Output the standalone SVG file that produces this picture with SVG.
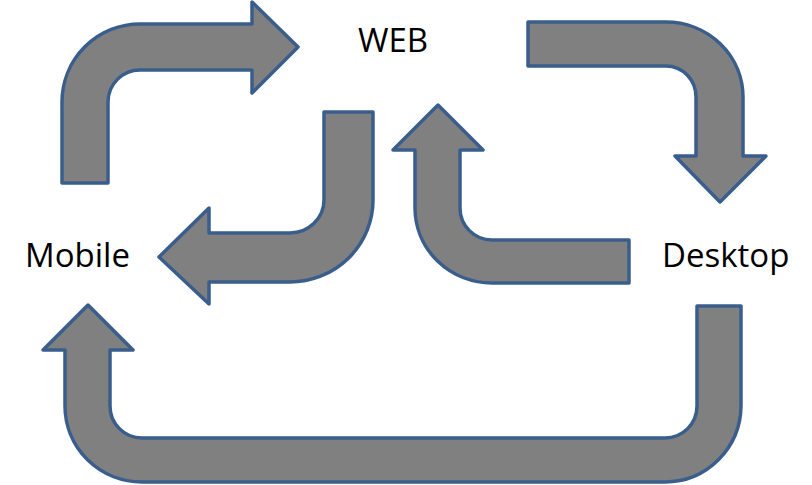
<svg xmlns="http://www.w3.org/2000/svg" width="812" height="485" viewBox="0 0 812 485">
<style>
.arrow{fill:#808080;stroke:#3A5E8C;stroke-width:3.5;stroke-linejoin:round}
.lbl{font-family:"Open Sans","Noto Sans","Liberation Sans",sans-serif;font-size:33px;fill:#000}
</style>
<rect width="812" height="485" fill="#fff"/>
<g id="connectors">
<path class="arrow" d="M 62 183 L 62 102 A 78 78 0 0 1 140 24 L 252 24 L 252 2 L 298 47 L 252 93 L 252 70 L 140 70 A 32 32 0 0 0 108 102 L 108 183 Z"/>
<path class="arrow" d="M 528 22 L 666 22 A 77 75 0 0 1 743 97 L 743 156 L 766 156 L 720 202 L 675 156 L 696 156 L 696 97 A 30 31 0 0 0 666 66 L 528 66 Z"/>
<path class="arrow" d="M 324 112 L 373 112 L 373 200 A 83 82 0 0 1 290 282 L 209 282 L 209 304 L 159 257 L 209 208 L 209 233 L 290 233 A 34 33 0 0 0 324 200 Z"/>
<path class="arrow" d="M 629 240 L 629 283 L 492 283 A 77 75 0 0 1 415 208 L 415 150 L 393 150 L 438 105 L 483 150 L 460 150 L 460 208 A 32 32 0 0 0 492 240 Z"/>
<path class="arrow" d="M 697 306 L 741 306 L 741 406 A 76 77 0 0 1 665 482 L 142 482 A 77 76 0 0 1 65 406 L 65 350 L 43 350 L 88 305 L 133 350 L 110 350 L 110 406 A 32 32 0 0 0 142 438 L 665 438 A 32 32 0 0 0 697 406 Z"/>
</g>
<g id="web"><text class="lbl" x="393" y="52" text-anchor="middle">WEB</text></g>
<g id="mobile"><text class="lbl" x="25" y="267">Mobile</text></g>
<g id="desktop"><text class="lbl" x="662" y="267">Desktop</text></g>
</svg>
